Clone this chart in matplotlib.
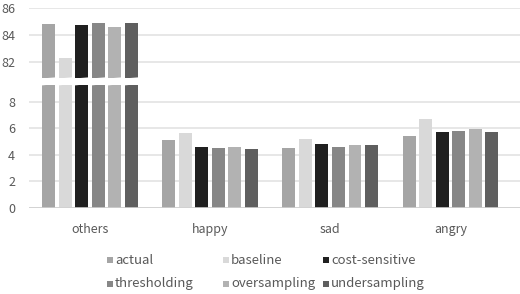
import numpy as np
import matplotlib.pyplot as plt
from matplotlib.patches import Polygon, Rectangle

# data
categories = ['others', 'happy', 'sad', 'angry']
series = ['actual', 'baseline', 'cost-sensitive', 'thresholding', 'oversampling', 'undersampling']
actual = [84.8, 5.13, 4.5, 5.4]
baseline = [82.3, 5.64, 5.18, 6.7]
cost_sensitive = [84.7, 4.63, 4.83, 5.7]
thresholding = [84.9, 4.5, 4.6, 5.8]
oversampling = [84.6, 4.58, 4.73, 5.95]
undersampling = [84.9, 4.43, 4.73, 5.7]
top_ticks = [82, 84, 86]
bottom_ticks = [0, 2, 4, 6, 8]

values = [actual, baseline, cost_sensitive, thresholding, oversampling, undersampling]
colors = ['#a5a5a5', '#d9d9d9', '#202020', '#878787', '#b2b2b2', '#5f5f5f']
txt = '#595959'
grid = '#e3e3e3'

plt.rcParams['font.family'] = ['Noto Sans CJK KR', 'DejaVu Sans']

W, H = 520, 294
fig = plt.figure(figsize=(W/100, H/100), dpi=100)
left, right = 29/W, 1.0
axt = fig.add_axes([left, 1-78/H, right-left, 70/H])
axb = fig.add_axes([left, 1-208/H, right-left, 123/H])

x = np.arange(len(categories))
pitch = 0.1375
width = 0.108
for i, (vals, c) in enumerate(zip(values, colors)):
    pos = x + (i-2.5)*pitch
    axt.bar(pos, vals, width, color=c, zorder=2)
    axb.bar(pos, vals, width, color=c, zorder=2)

axt.set_ylim(80.8, 86)
axb.set_ylim(0, 9.28)
for ax, ticks in [(axt, top_ticks), (axb, bottom_ticks)]:
    ax.set_xlim(-0.508, 3.58)
    ax.set_yticks(ticks)
    ax.set_yticklabels([str(t) for t in ticks])
    for s in ax.spines.values():
        s.set_visible(False)
    ax.yaxis.grid(True, color=grid, lw=1.2, zorder=0)
    ax.tick_params(axis='y', length=0, labelsize=9, labelcolor=txt, pad=10)
    ax.set_facecolor('none')
axt.set_xticks([])
axb.set_xticks(x)
axb.set_xticklabels(categories)
axb.tick_params(axis='x', length=0, labelsize=9, labelcolor=txt, pad=11)
axb.axhline(0, color='#d0d0d0', lw=1.2, zorder=3)

# slanted break marks across the "others" bars
for i in range(len(series)):
    cx = x[0] + (i-2.5)*pitch
    x0 = axb.transData.transform((cx - width/2 - 0.01, 0))[0] / W
    x1 = axb.transData.transform((cx + width/2 + 0.01, 0))[0] / W
    poly = Polygon([(x0, 1-78.5/H), (x1, 1-77.3/H), (x1, 1-84/H), (x0, 1-85.5/H)],
                   closed=True, transform=fig.transFigure, facecolor='white',
                   edgecolor='none', zorder=10)
    fig.patches.append(poly)

# legend laid out like the reference (fixed columns)
col_x = [107, 223, 323]
row_y = [260, 284]
for k, name in enumerate(series):
    px = col_x[k % 3]
    py = row_y[k // 3]
    fig.patches.append(Rectangle((px/W, 1-(py+3)/H), 6/W, 6/H, transform=fig.transFigure,
                                 facecolor=colors[k], edgecolor='none'))
    fig.text((px+8)/W, 1-py/H, name, fontsize=9.5, color=txt, va='center', ha='left')

fig.savefig('out.png', dpi=100)
